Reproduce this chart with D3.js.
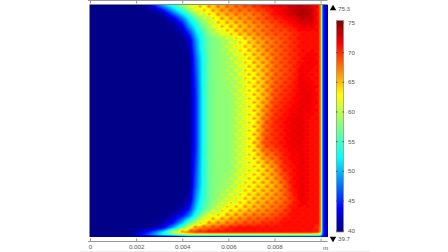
<!DOCTYPE html>
<html>
<head>
<meta charset="utf-8">
<script src="https://cdn.jsdelivr.net/npm/d3@7"></script>
<style>
 html, body { margin: 0; padding: 0; background: #fff; }
 svg { display: block; }
 text { font-family: "Liberation Sans", sans-serif; font-size: 6.2px; fill: #555; }
 .domain, .tick line { stroke: #999; stroke-width: 1px; }
</style>
</head>
<body>
<div id="chart"></div>
<script>
// grid positions of the temperature field, metres
const gridX = [0, 0.0016, 0.002, 0.0024, 0.0028, 0.0032, 0.0036, 0.004, 0.0043, 0.0046, 0.0049, 0.0052, 0.0056, 0.006, 0.0064, 0.0068, 0.0072, 0.0076, 0.008, 0.0084, 0.0088, 0.0092, 0.0096, 0.0099, 0.01, 0.0101, 0.0103];
const gridY = [0.01, 0.0098, 0.0096, 0.0094, 0.0091, 0.0088, 0.0085, 0.0081, 0.0077, 0.007, 0.006, 0.005, 0.004, 0.003, 0.0022, 0.0016, 0.0012, 0.0009, 0.0006, 0.0004, 0.0002, 0.0001, 0];

// temperature, one row per gridY
const temps = [
 [40,40,40,41,45,50,54,58,61,63,64,65,66,67,68,69,70,71,72,72,73,73,72,71,67,45,41],
 [40,40,40,40,41,45,50,55,59,62,63,64,66,67,68,68,69,70,71,72,73,74,73,71,67,45,41],
 [40,40,40,40,40,41,46,51,55,59,61,63,65,66,67,67,68,69,71,72,73,74,73,71,67,45,41],
 [40,40,40,40,40,40,42,47,52,56,59,61,64,65,66,67,68,69,70,71,72,73,73,71,67,45,41],
 [40,40,40,40,40,40,40,43,49,53,57,60,63,64,65,66,67,68,69,70,71,72,72,71,67,45,41],
 [40,40,40,40,40,40,40,41,45,51,55,58,61,63,65,66,67,68,69,69,70,71,71,71,67,45,41],
 [40,40,40,40,40,40,40,40,42,49,54,57,58,60,62,64,66,67,68,69,70,71,71,71,67,45,41],
 [40,40,40,40,40,40,40,40,41,48,54,57,58,60,62,64,65,67,68,69,70,71,71,71,67,45,41],
 [40,40,40,40,40,40,40,40,40,47,53,57,58,59,61,63,65,66,68,69,70,71,72,71,67,45,41],
 [40,40,40,40,40,40,40,40,40,46,53,57,58,59,60,63,64,66,68,69,70,72,71,71,67,45,41],
 [40,40,40,40,40,40,40,40,40,45,53,57,58,58,60,62,64,66,69,70,71,72,72,71,67,45,41],
 [40,40,40,40,40,40,40,40,40,45,53,57,58,58,60,62,64,68,70,71,72,72,71,71,67,45,41],
 [40,40,40,40,40,40,40,40,40,45,53,57,58,58,60,62,65,69,70,71,72,72,71,71,67,45,41],
 [40,40,40,40,40,40,40,40,40,46,53,57,58,58,60,62,63,65,67,70,71,72,71,71,67,45,41],
 [40,40,40,40,40,40,40,40,40,47,53,57,58,59,61,63,64,65,66,68,71,72,71,71,67,45,41],
 [40,40,40,40,40,40,40,40,41,49,54,57,59,61,62,64,65,66,67,68,70,72,71,71,67,45,41],
 [40,40,40,40,40,40,40,41,44,51,55,58,61,63,64,65,66,67,68,69,71,71,71,71,67,45,41],
 [40,40,40,40,40,40,41,44,48,54,59,62,63,65,66,67,68,68,69,70,71,71,71,71,67,45,41],
 [40,40,40,40,40,41,44,50,56,60,63,65,66,67,68,69,69,70,70,71,71,71,71,71,67,45,41],
 [40,40,40,40,41,43,49,56,62,66,67,68,69,70,71,71,71,71,71,71,71,71,71,70,67,45,41],
 [40,40,41,43,47,52,60,66,68,70,70,71,71,71,71,71,71,71,71,71,71,71,71,70,66,45,41],
 [40,40,42,45,49,53,57,60,62,62,62,62,62,62,62,62,62,62,62,62,62,62,62,61,58,45,41],
 [40,40,40,41,41,42,42,43,44,44,44,44,44,44,44,44,44,44,44,44,44,44,44,44,44,43,41]
];

// one repeat of the honeycomb ripple on the warm side, temperature offset per pixel
const rippleTile = [
 [0.5,1.5,1.5,0.5,-0.5,-1,-1,-1,-0.5],
 [1.5,3,3,1.5,0,-1,-1,-1,0],
 [0.5,1.5,1.5,0.5,-0.5,-1,-1,-1,-0.5],
 [-0.5,-1,-1,-1,-0.5,0,0,-0.5,-0.5],
 [-1,-1,-1,-0.5,0.5,1.5,1.5,0.5,-0.5],
 [-1,-1,-1,0,1.5,3,3,1.5,0],
 [-1,-1,-1,-0.5,0.5,1.5,1.5,0.5,-0.5],
 [-0.5,0,0,-0.5,-0.5,-1,-1,-1,-0.5]
];

const xTicks = [0, 0.002, 0.004, 0.006, 0.008, 0.01];
const xTickLabels = ["0", "0.002", "0.004", "0.006", "0.008", ""];
const colorDomain = [39.7, 43.6, 52.2, 57.5, 62.8, 71.4, 75.3];
const colorRange = ["#00007f", "#0000ff", "#00ffff", "#80ff80", "#ffff00", "#ff0000", "#7f0000"];
const barTicks = [40, 45, 50, 55, 60, 65, 70, 75];
const tempMax = 75.3;
const tempMin = 39.7;

const width = 448;
const height = 252;

const svg = d3
 .select("#chart")
 .append("svg")
 .attr("width", width)
 .attr("height", height);

const xScale = d3.scaleLinear().domain([0, 0.01]).range([90, 320.6]);
const yScale = d3.scaleLinear().domain([0, 0.01]).range([236.7, 5]);
const colorScale = d3.scaleLinear().domain(colorDomain).range(colorRange).clamp(true);
const rippleWeight = d3.scaleLinear().domain([58, 60.5, 64, 68, 71]).range([0, 0.9, 0.9, 0.45, 0.12]).clamp(true);

// bilinear lookup in the grid, so the field is painted smooth
function tempAt(mx, my) {
 const i = Math.min(Math.max(d3.bisectRight(gridX, mx) - 1, 0), gridX.length - 2);
 const j = Math.min(Math.max(d3.bisector((d) => -d).right(gridY, -my) - 1, 0), gridY.length - 2);
 const tx = Math.min(Math.max((mx - gridX[i]) / (gridX[i + 1] - gridX[i]), 0), 1);
 const ty = Math.min(Math.max((my - gridY[j]) / (gridY[j + 1] - gridY[j]), 0), 1);
 const a = temps[j][i] + (temps[j][i + 1] - temps[j][i]) * tx;
 const b = temps[j + 1][i] + (temps[j + 1][i + 1] - temps[j + 1][i]) * tx;
 return a + (b - a) * ty;
}

const x0 = 90;
const y0 = 5;
const imgW = Math.round(xScale(gridX[gridX.length - 1])) - x0;
const imgH = 232;
const canvas = document.createElement("canvas");
canvas.width = imgW;
canvas.height = imgH;
const ctx = canvas.getContext("2d");
const img = ctx.createImageData(imgW, imgH);
for (let py = 0; py < imgH; py++) {
 for (let px = 0; px < imgW; px++) {
  let v = tempAt(xScale.invert(x0 + px + 0.5), yScale.invert(y0 + py + 0.5));
  // no ripple next to the wall or along the bottom strip
  if (x0 + px < 318 && y0 + py < 232) {
   v += rippleTile[py % rippleTile.length][px % rippleTile[0].length] * rippleWeight(v);
  }
  const c = d3.rgb(colorScale(v));
  const k = (py * imgW + px) * 4;
  img.data[k] = c.r;
  img.data[k + 1] = c.g;
  img.data[k + 2] = c.b;
  img.data[k + 3] = 255;
 }
}
ctx.putImageData(img, 0, 0);

const defs = svg.append("defs");
defs
 .append("filter")
 .attr("id", "soft")
 .append("feGaussianBlur")
 .attr("stdDeviation", 0.6);
defs
 .append("clipPath")
 .attr("id", "field-clip")
 .append("rect")
 .attr("x", x0)
 .attr("y", y0)
 .attr("width", imgW)
 .attr("height", imgH);

svg
 .append("g")
 .attr("clip-path", "url(#field-clip)")
 .append("image")
 .attr("x", x0)
 .attr("y", y0)
 .attr("width", imgW)
 .attr("height", imgH)
 .attr("href", canvas.toDataURL())
 .attr("filter", "url(#soft)");

// frame on the left and top of the field
svg
 .append("path")
 .attr("d", d3.line()([[89.5, 237], [89.5, 4.5], [327.5, 4.5]]))
 .attr("fill", "none")
 .attr("stroke", "#8a8a8a");

// rulers
const axisBottom = d3
 .axisBottom(xScale)
 .tickValues(xTicks)
 .tickFormat((d, i) => xTickLabels[i])
 .tickSizeInner(-3)
 .tickSizeOuter(0)
 .tickPadding(3);
svg
 .append("g")
 .attr("transform", "translate(0,241.5)")
 .call(axisBottom);

const axisTop = d3
 .axisTop(xScale)
 .tickValues(xTicks)
 .tickFormat("")
 .tickSizeInner(-3)
 .tickSizeOuter(0);
svg
 .append("g")
 .attr("transform", "translate(0,0.5)")
 .call(axisTop);

svg.selectAll(".domain").attr("d", "M88,0H327.5");

svg.append("text").attr("x", 323).attr("y", 249.5).text("m");

// colour bar
const barScale = d3.scaleLinear().domain([tempMin, tempMax]).range([232, 20.6]);
const barGrad = defs
 .append("linearGradient")
 .attr("id", "bar-grad")
 .attr("x1", "0%")
 .attr("x2", "0%")
 .attr("y1", "100%")
 .attr("y2", "0%");
colorDomain.forEach((d, i) => {
 barGrad
  .append("stop")
  .attr("offset", (d - tempMin) / (tempMax - tempMin))
  .attr("stop-color", colorRange[i]);
});
svg
 .append("rect")
 .attr("x", 336.5)
 .attr("y", barScale(tempMax))
 .attr("width", 7)
 .attr("height", barScale(tempMin) - barScale(tempMax))
 .attr("fill", "url(#bar-grad)")
 .attr("stroke", "#8a8a8a")
 .attr("stroke-width", 0.7);

const barAxis = svg
 .append("g")
 .attr("transform", "translate(344,0)")
 .call(d3.axisRight(barScale).tickValues(barTicks).tickSizeInner(-1.5).tickSizeOuter(0).tickPadding(4));
barAxis.select(".domain").remove();
barAxis.selectAll(".tick line").style("stroke", "#555");
barAxis
 .selectAll(".tick")
 .append("line")
 .attr("x1", -8)
 .attr("x2", -6.5)
 .style("stroke", "#555");

// max and min markers
const triangle = d3.symbol().type(d3.symbolTriangle).size(18);
svg
 .append("path")
 .attr("d", triangle())
 .attr("transform", "translate(333,8.5)")
 .attr("fill", "#000");
svg.append("text").attr("x", 338).attr("y", 10.5).text(tempMax);
svg
 .append("path")
 .attr("d", triangle())
 .attr("transform", "translate(333,238.5) rotate(180)")
 .attr("fill", "#000");
svg.append("text").attr("x", 338).attr("y", 241).text(tempMin);

// faint strip along the lower edge
svg
 .append("rect")
 .attr("x", 80)
 .attr("y", 251)
 .attr("width", 290)
 .attr("height", 1)
 .attr("fill", "#f0f0f0");
</script>
</body>
</html>
